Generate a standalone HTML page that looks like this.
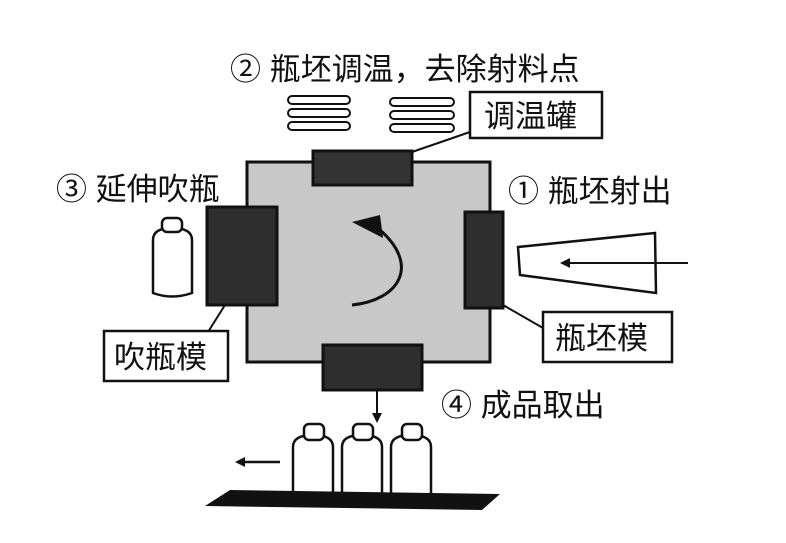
<!DOCTYPE html>
<html><head><meta charset="utf-8"><style>
body{margin:0;background:#fff;}
svg text{font-family:"Liberation Sans","Noto Sans CJK SC",sans-serif;fill:#111;}
</style></head><body>
<svg width="786" height="538" viewBox="0 0 786 538" xmlns="http://www.w3.org/2000/svg">
<defs>
<marker id="ah" markerWidth="10" markerHeight="10" refX="5" refY="5" orient="auto" markerUnits="userSpaceOnUse">
<path d="M0,0 L10,5 L0,10 z" fill="#111"/></marker>
</defs>
<rect width="786" height="538" fill="#fff"/>
<!-- titles -->
<text x="230" y="80" font-size="31">② 瓶坯调温，去除射料点</text>
<text x="56" y="200" font-size="31">③ 延伸吹瓶</text>
<text x="508" y="202" font-size="31">① 瓶坯射出</text>
<text x="441" y="416" font-size="31">④ 成品取出</text>
<!-- heat lines -->
<g fill="none" stroke="#111" stroke-width="2">
<rect x="288" y="96" width="62" height="8" rx="4"/>
<rect x="288" y="109" width="62" height="8" rx="4"/>
<rect x="288" y="122" width="62" height="8" rx="4"/>
<rect x="390" y="98" width="64" height="8" rx="4"/>
<rect x="390" y="111" width="64" height="8" rx="4"/>
<rect x="390" y="124" width="64" height="8" rx="4"/>
</g>
<!-- main square -->
<rect x="247" y="162" width="243" height="200" fill="#c8c8c8" stroke="#111" stroke-width="3"/>
<rect x="313" y="151" width="99" height="34" fill="#333" stroke="#111" stroke-width="3"/>
<rect x="207" y="207" width="70" height="98" fill="#2e2e2e" stroke="#111" stroke-width="3"/>
<rect x="465" y="212" width="38" height="96" fill="#2e2e2e" stroke="#111" stroke-width="3"/>
<rect x="323" y="345" width="99" height="45" fill="#2e2e2e" stroke="#111" stroke-width="3"/>
<!-- rotation arrow -->
<path d="M352,305 C400,300 420,265 380,230" fill="none" stroke="#111" stroke-width="3"/>
<path d="M352,222 L380,215 L383,238 z" fill="#111"/>
<!-- labels -->
<line x1="412" y1="152" x2="470" y2="132" stroke="#111" stroke-width="2"/>
<rect x="470" y="92" width="132" height="46" fill="#fff" stroke="#111" stroke-width="2.5"/>
<text x="484" y="127" font-size="31">调温罐</text>
<line x1="503" y1="305" x2="543" y2="328" stroke="#111" stroke-width="2"/>
<rect x="543" y="312" width="129" height="50" fill="#fff" stroke="#111" stroke-width="2.5"/>
<text x="555" y="349" font-size="31">瓶坯模</text>
<line x1="225" y1="305" x2="208" y2="332" stroke="#111" stroke-width="2"/>
<rect x="104" y="331" width="124" height="50" fill="#fff" stroke="#111" stroke-width="2.5"/>
<text x="114" y="368" font-size="31">吹瓶模</text>
<!-- preform -->
<path d="M518,247 L655,233 L656,293 L520,275 z" fill="#fff" stroke="#111" stroke-width="2.5"/>
<line x1="688" y1="263" x2="565" y2="263" stroke="#111" stroke-width="2" marker-end="url(#ah)"/>
<!-- left bottle -->
<g fill="#fff" stroke="#111" stroke-width="2.5">
<path d="M153,240 Q153,228 172,228 Q192,228 192,240 L192,293 Q172,300 153,293 z"/>
<rect x="162" y="218" width="20" height="14" rx="5"/>
</g>
<!-- down arrow -->
<line x1="377" y1="390" x2="377" y2="418" stroke="#111" stroke-width="2" marker-end="url(#ah)"/>
<!-- bottles -->
<g fill="#fff" stroke="#111" stroke-width="2.5">
<path d="M293,494 L293,447 Q293,435 313,435 Q333,435 333,447 L333,494"/>
<rect x="304" y="424" width="20" height="16" rx="5"/>
<path d="M342,494 L342,447 Q342,435 362,435 Q382,435 382,447 L382,494"/>
<rect x="353" y="424" width="20" height="16" rx="5"/>
<path d="M391,494 L391,447 Q391,435 411,435 Q431,435 431,447 L431,494"/>
<rect x="402" y="424" width="20" height="16" rx="5"/>
</g>
<path d="M230,490 L500,494 L482,510 L205,506 z" fill="#111"/>
<line x1="280" y1="462" x2="240" y2="462" stroke="#111" stroke-width="2.5" marker-end="url(#ah)"/>
</svg>
</body></html>
